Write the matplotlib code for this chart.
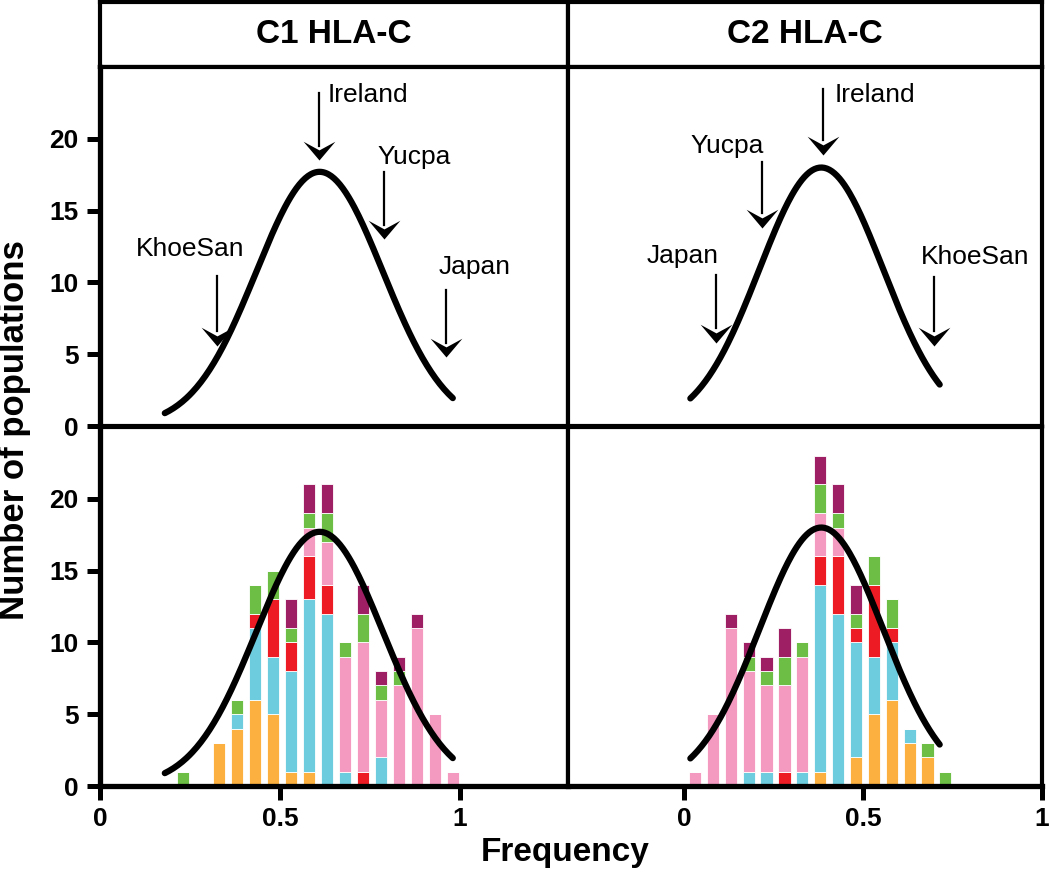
import numpy as np
import matplotlib
matplotlib.use('Agg')
import matplotlib.pyplot as plt
from matplotlib.path import Path

plt.rcParams['font.family'] = ['Liberation Sans', 'DejaVu Sans']

# histogram data (number of populations per frequency bin)
c1_bins = [0.23, 0.33, 0.38, 0.43, 0.48, 0.53, 0.58, 0.63, 0.68, 0.73, 0.78, 0.83, 0.88, 0.93, 0.98]
c1_orange = [0, 3, 4, 6, 5, 1, 1, 0, 0, 0, 0, 0, 0, 0, 0]
c1_cyan = [0, 0, 1, 5, 4, 7, 12, 12, 1, 0, 2, 0, 0, 0, 0]
c1_red = [0, 0, 0, 1, 4, 2, 3, 2, 0, 1, 0, 0, 0, 0, 0]
c1_pink = [0, 0, 0, 0, 0, 0, 2, 3, 8, 9, 4, 7, 11, 5, 1]
c1_green = [1, 0, 1, 2, 2, 1, 1, 2, 1, 2, 1, 1, 0, 0, 0]
c1_purple = [0, 0, 0, 0, 0, 2, 2, 2, 0, 2, 1, 1, 1, 0, 0]

c2_bins = [0.03, 0.08, 0.13, 0.18, 0.23, 0.28, 0.33, 0.38, 0.43, 0.48, 0.53, 0.58, 0.63, 0.68, 0.73]
c2_orange = [0, 0, 0, 0, 0, 0, 0, 1, 0, 2, 5, 6, 3, 2, 0]
c2_cyan = [0, 0, 0, 1, 1, 0, 1, 13, 12, 8, 4, 4, 1, 0, 0]
c2_red = [0, 0, 0, 0, 0, 1, 0, 2, 4, 1, 5, 1, 0, 0, 0]
c2_pink = [1, 5, 11, 7, 6, 6, 8, 3, 2, 0, 0, 0, 0, 0, 0]
c2_green = [0, 0, 0, 1, 1, 2, 1, 2, 1, 1, 2, 2, 0, 1, 1]
c2_purple = [0, 0, 1, 1, 1, 2, 0, 2, 2, 2, 0, 0, 0, 0, 0]

seg_colors = ['#FBB040', '#6DCCDD', '#ED1C24', '#F49AC1', '#6DBE45', '#9E1F63']

# gaussian fits: mean, sd, peak, x range
c1_fit = (0.61, 0.176, 17.7, 0.18, 0.98)
c2_fit = (0.383, 0.173, 18.0, 0.017, 0.714)

# arrow annotations: label, arrow x, arrow top, arrow tip, text x, text y, alignment
c1_notes = [
    ('Ireland', 0.608, 23.2, 18.5, 0.633, 23.05, 'left'),
    ('Yucpa', 0.79, 17.7, 13.0, 0.77, 18.75, 'left'),
    ('KhoeSan', 0.324, 10.45, 5.6, 0.25, 12.3, 'center'),
    ('Japan', 0.962, 9.5, 4.8, 1.04, 11.1, 'center'),
]
c2_notes = [
    ('Ireland', 0.389, 23.5, 18.9, 0.42, 23.05, 'left'),
    ('Yucpa', 0.217, 18.4, 13.8, 0.12, 19.5, 'center'),
    ('Japan', 0.089, 10.5, 5.8, -0.005, 11.85, 'center'),
    ('KhoeSan', 0.697, 10.4, 5.6, 0.814, 11.8, 'center'),
]

W, H = 1050, 874
fig = plt.figure(figsize=(W / 100, H / 100), dpi=100)

# notched arrow head, tip at the origin
head = Path([(0, 0), (-11, 13), (0, 7), (11, 13), (0, 0)],
            [Path.MOVETO, Path.LINETO, Path.LINETO, Path.LINETO, Path.CLOSEPOLY])


def gauss_curve(ax, fit):
    mu, sd, peak, x0, x1 = fit
    xs = np.linspace(x0, x1, 200)
    ax.plot(xs, peak * np.exp(-(xs - mu) ** 2 / (2 * sd ** 2)),
            color='black', lw=4.5, solid_capstyle='round', zorder=5)


def style(ax, xlim, left_axis, bottom_axis):
    ax.set_xlim(*xlim)
    ax.set_ylim(0, 25)
    for s in ax.spines.values():
        s.set_linewidth(3)
    if left_axis:
        ax.spines['left'].set_linewidth(3.8)
        ax.set_yticks([0, 5, 10, 15, 20])
        ax.tick_params(axis='y', length=9.5, width=3.6, pad=6, labelsize=19)
        for t in ax.get_yticklabels():
            t.set_fontweight('bold')
    else:
        ax.set_yticks([])
    if bottom_axis:
        ax.spines['bottom'].set_linewidth(3.8)
        ax.set_xticks([0, 0.5, 1])
        ax.set_xticklabels(['0', '0.5', '1'])
        ax.tick_params(axis='x', length=10, width=3.6, pad=5, labelsize=19)
        for t in ax.get_xticklabels():
            t.set_fontweight('bold')
    else:
        ax.set_xticks([])


panels = [
    (100, 468, (0, 1.3), c1_bins, [c1_orange, c1_cyan, c1_red, c1_pink, c1_green, c1_purple],
     c1_fit, c1_notes, 'C1 HLA-C', True),
    (568, 474, (-0.325, 1.0), c2_bins, [c2_orange, c2_cyan, c2_red, c2_pink, c2_green, c2_purple],
     c2_fit, c2_notes, 'C2 HLA-C', False),
]

for x_px, w_px, xlim, bins, series, fit, notes, title, first in panels:
    # header box
    ax_h = fig.add_axes([x_px / W, (H - 67) / H, w_px / W, 65 / H])
    ax_h.set_xticks([])
    ax_h.set_yticks([])
    for s in ax_h.spines.values():
        s.set_linewidth(3)
    ax_h.text(0.5, 0.5, title, ha='center', va='center', fontsize=24,
              fontweight='bold', transform=ax_h.transAxes)

    # top panel: fitted curve with arrows
    ax_t = fig.add_axes([x_px / W, (H - 426) / H, w_px / W, 359 / H])
    gauss_curve(ax_t, fit)
    for label, ax_x, y_top, y_tip, tx, ty, ha in notes:
        ax_t.plot([ax_x, ax_x], [y_top, y_tip + 1.0], color='black', lw=1.6)
        ax_t.plot([ax_x], [y_tip], marker=head, markersize=27, color='black',
                  markeredgewidth=0)
        ax_t.text(tx, ty, label, ha=ha, va='center', fontsize=19)
    style(ax_t, xlim, first, False)

    # bottom panel: stacked histogram with the same curve
    ax_b = fig.add_axes([x_px / W, (H - 786) / H, w_px / W, 359 / H])
    bottom = np.zeros(len(bins))
    for vals, col in zip(series, seg_colors):
        ax_b.bar(bins, vals, width=0.034, bottom=bottom, color=col,
                 edgecolor='white', linewidth=0.6, zorder=2)
        bottom += np.array(vals)
    gauss_curve(ax_b, fit)
    style(ax_b, xlim, first, True)

fig.text(15 / W, (H - 430) / H, 'Number of populations', rotation=90,
         ha='center', va='center', fontsize=25, fontweight='bold')
fig.text(565 / W, (H - 852) / H, 'Frequency', ha='center', va='center',
         fontsize=24, fontweight='bold')

fig.savefig('out.png', dpi=100)
